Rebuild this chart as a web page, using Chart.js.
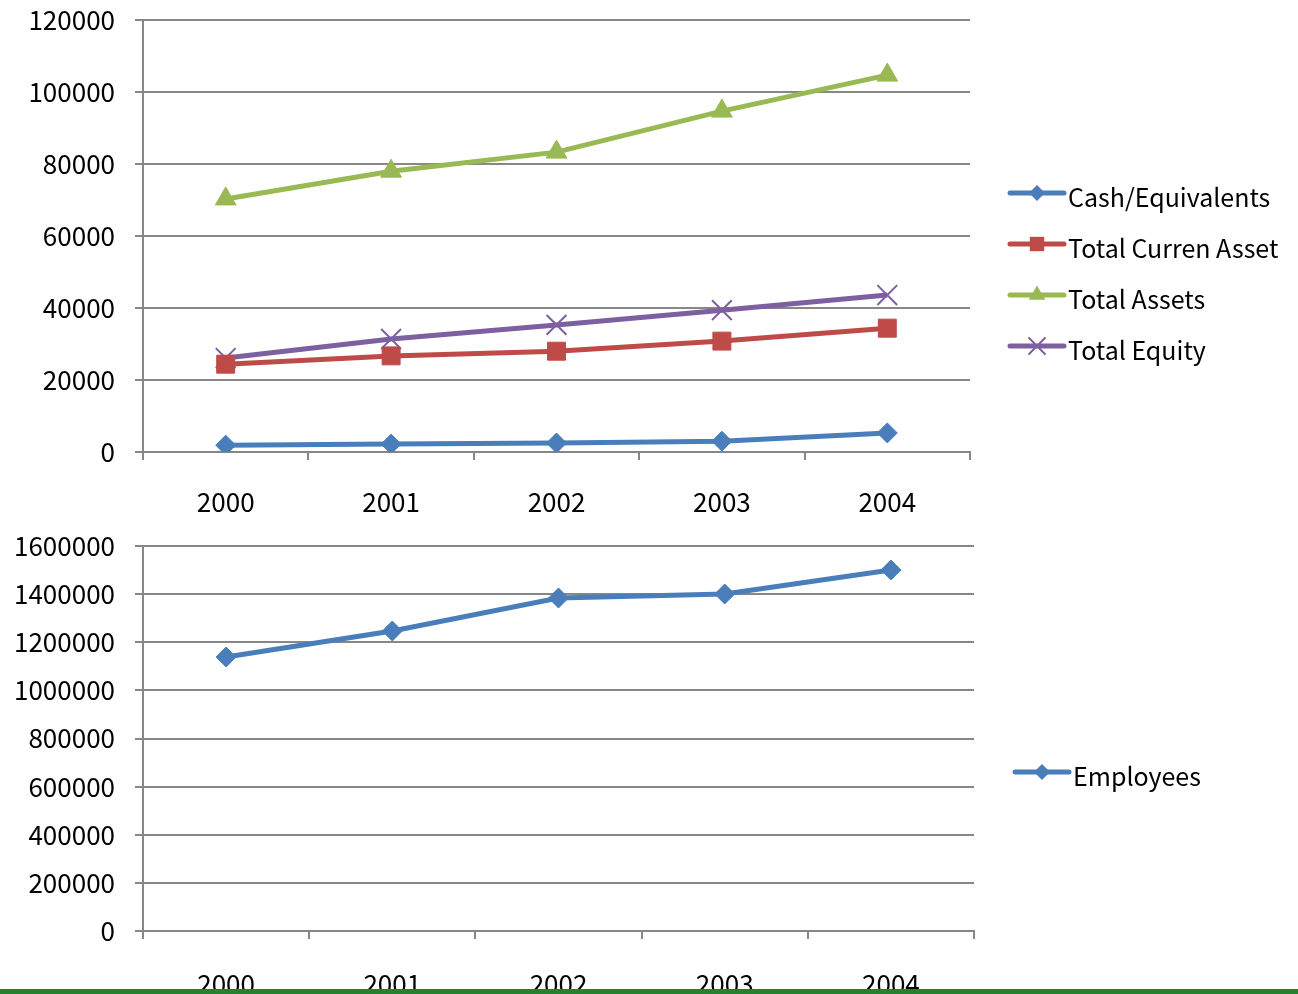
<!DOCTYPE html>
<html>
<head>
<meta charset="utf-8">
<script src="https://cdn.jsdelivr.net/npm/chart.js"></script>
<style>
  body { margin: 0; background: #fff; overflow: hidden; }
  #topChart { position: absolute; left: 0; top: 0; }
  #bottomChart { position: absolute; left: 0; top: 520px; }
  #bar { position: absolute; left: 0; top: 989px; width: 1298px; height: 5px; background: #23812f; }
</style>
</head>
<body>
<canvas id="topChart" width="1298" height="520"></canvas>
<canvas id="bottomChart" width="1298" height="474"></canvas>
<div id="bar"></div>
<script>
// yearly figures
const years = ["2000", "2001", "2002", "2003", "2004"];
const cashEquivalents = [1900, 2200, 2500, 3000, 5300];
const totalCurrenAsset = [24400, 26700, 28000, 30800, 34400];
const totalAssets = [70300, 78000, 83300, 94700, 104700];
const totalEquity = [26100, 31400, 35300, 39400, 43600];
const employees = [1138700, 1246800, 1383900, 1400500, 1500300];

const FONT = "'Noto Sans CJK KR', 'Open Sans', sans-serif";
const GRID = "#878787";

// marker shapes for the legend, same geometry chart.js uses
function drawMarker(ctx, style, x, y, r, color) {
  ctx.save();
  ctx.fillStyle = color;
  ctx.strokeStyle = color;
  ctx.beginPath();
  if (style === "rectRot") {
    ctx.moveTo(x, y - r); ctx.lineTo(x + r, y); ctx.lineTo(x, y + r); ctx.lineTo(x - r, y);
    ctx.closePath(); ctx.fill();
  } else if (style === "rect") {
    const s = r * Math.SQRT1_2;
    ctx.rect(x - s, y - s, 2 * s, 2 * s); ctx.fill();
  } else if (style === "triangle") {
    const a = -Math.PI / 2;
    for (let k = 0; k < 3; k++) {
      const t = a + k * 2 * Math.PI / 3;
      const px = x + Math.cos(t) * r, py = y + Math.sin(t) * r;
      k ? ctx.lineTo(px, py) : ctx.moveTo(px, py);
    }
    ctx.closePath(); ctx.fill();
  } else if (style === "crossRot") {
    const s = r * Math.SQRT1_2;
    ctx.lineWidth = 2;
    ctx.moveTo(x - s, y - s); ctx.lineTo(x + s, y + s);
    ctx.moveTo(x + s, y - s); ctx.lineTo(x - s, y + s);
    ctx.stroke();
  }
  ctx.restore();
}

const sideLegend = {
  id: "sideLegend",
  afterDraw(chart, args, opts) {
    const ctx = chart.ctx;
    ctx.save();
    ctx.font = "25px " + FONT;
    ctx.textBaseline = "middle";
    chart.data.datasets.forEach((ds, i) => {
      const y = opts.top + i * opts.gap;
      ctx.strokeStyle = ds.borderColor;
      ctx.lineWidth = ds.borderWidth;
      ctx.lineCap = "round";
      ctx.beginPath();
      ctx.moveTo(opts.left, y);
      ctx.lineTo(opts.left + 54, y);
      ctx.stroke();
      drawMarker(ctx, ds.pointStyle, opts.left + 27, y, ds.pointRadius * 0.8, ds.borderColor);
      ctx.fillStyle = "#000";
      ctx.fillText(ds.label, opts.left + 58, y + 4);
    });
    ctx.restore();
  }
};

function series(label, data, color, style, radius) {
  return {
    label: label, data: data,
    borderColor: color, backgroundColor: color,
    borderWidth: 5, tension: 0,
    pointStyle: style, pointRadius: radius,
    pointBackgroundColor: color, pointBorderColor: color,
    pointBorderWidth: style === "crossRot" ? 2 : 1
  };
}

function axes(yMax, yStep, xHeight, xPad) {
  return {
    x: {
      offset: true,
      grid: { offset: true, drawOnChartArea: false, drawTicks: true, tickLength: 8, color: GRID, lineWidth: 2 },
      border: { color: GRID, width: 2 },
      ticks: { color: "#000", padding: xPad, font: { family: FONT, size: 26 } },
      afterFit(scale) {
        scale.height = xHeight;
        scale.paddingLeft = 0; scale.paddingRight = 0;
      }
    },
    y: {
      min: 0, max: yMax,
      grid: { color: GRID, lineWidth: 2, tickLength: 8 },
      border: { color: GRID, width: 2 },
      ticks: { stepSize: yStep, color: "#000", padding: 20, font: { family: FONT, size: 26 },
               callback: v => String(v) },
      afterFit(scale) {
        scale.width = 143;
        scale.paddingTop = 0; scale.paddingBottom = 0;
      }
    }
  };
}

new Chart("topChart", {
  type: "line",
  data: {
    labels: years,
    datasets: [
      series("Cash/Equivalents", cashEquivalents, "#4a7ebb", "rectRot", 10),
      series("Total Curren Asset", totalCurrenAsset, "#be4b48", "rect", 12.7),
      series("Total Assets", totalAssets, "#98b954", "triangle", 12),
      series("Total Equity", totalEquity, "#7d60a0", "crossRot", 14)
    ]
  },
  options: {
    responsive: false,
    animation: false,
    layout: { padding: { top: 20, right: 328, left: 0, bottom: 0 } },
    scales: axes(120000, 20000, 68, 27),
    plugins: {
      legend: { display: false },
      tooltip: { enabled: false },
      sideLegend: { left: 1010, top: 193, gap: 51 }
    }
  },
  plugins: [sideLegend]
});

new Chart("bottomChart", {
  type: "line",
  data: {
    labels: years,
    datasets: [
      series("Employees", employees, "#4a7ebb", "rectRot", 10)
    ]
  },
  options: {
    responsive: false,
    animation: false,
    layout: { padding: { top: 26, right: 324, left: 0, bottom: 0 } },
    scales: axes(1600000, 200000, 63, 30),
    plugins: {
      legend: { display: false },
      tooltip: { enabled: false },
      sideLegend: { left: 1015, top: 252, gap: 51 }
    }
  },
  plugins: [sideLegend]
});
</script>
</body>
</html>
